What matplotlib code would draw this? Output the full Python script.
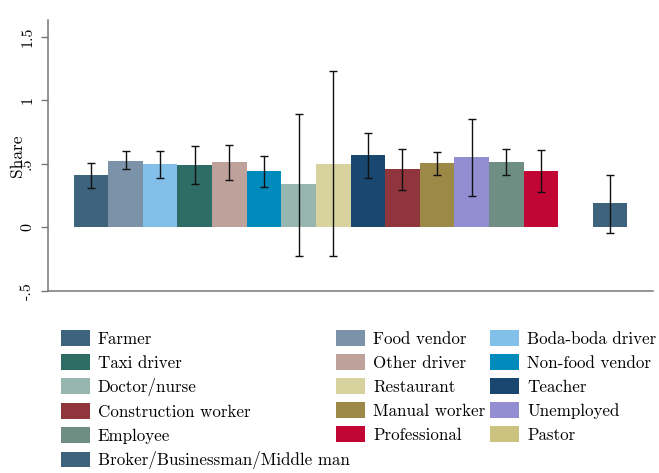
import numpy as np
import matplotlib.pyplot as plt
from matplotlib.patches import Patch

plt.rcParams['font.family'] = ['cmr10', 'DejaVu Serif']
plt.rcParams['axes.formatter.use_mathtext'] = True

# occupation groups, in plotting order
occupations = [
    "Farmer", "Food vendor", "Boda-boda driver", "Taxi driver", "Other driver",
    "Non-food vendor", "Doctor/nurse", "Restaurant", "Teacher",
    "Construction worker", "Manual worker", "Unemployed", "Employee",
    "Professional", "Pastor", "Broker/Businessman/Middle man",
]
share = [0.41, 0.525, 0.496, 0.488, 0.512, 0.441, 0.339, 0.502, 0.567,
         0.457, 0.504, 0.551, 0.514, 0.441, np.nan, 0.189]
ci_low = [0.307, 0.457, 0.386, 0.344, 0.375, 0.318, -0.223, -0.226, 0.391,
          0.294, 0.415, 0.247, 0.412, 0.278, np.nan, -0.042]
ci_high = [0.51, 0.60, 0.60, 0.64, 0.648, 0.562, 0.895, 1.228, 0.743,
           0.62, 0.596, 0.856, 0.617, 0.609, np.nan, 0.412]

colors = ["#3e647d", "#7b92a8", "#82c0e9", "#2d6d66", "#bfa19c", "#008bbc",
          "#97b6b0", "#d7d29e", "#1a476f", "#90353b", "#9c8847", "#938dd2",
          "#6e8e84", "#c10534", "#cac27e", "#3e647d"]

ytick_vals = [-0.5, 0, 0.5, 1, 1.5]
ytick_text = ["-.5", "0", ".5", "1", "1.5"]

share = np.array(share)
lo = np.array(ci_low)
hi = np.array(ci_high)
x = np.arange(len(occupations))

fig = plt.figure(figsize=(6.59, 4.73), dpi=100)
ax = fig.add_axes([48 / 659, 1 - 291 / 473, 605 / 659, 271 / 473])

ax.bar(x, share, width=1.0, color=colors, linewidth=0)
ok = ~np.isnan(share)
ax.errorbar(x[ok], share[ok], yerr=[share[ok] - lo[ok], hi[ok] - share[ok]],
            fmt="none", ecolor="#111111", elinewidth=1.0, capsize=3.2,
            capthick=1.0)

ax.set_xlim(-1.24, 16.24)
ax.set_ylim(-0.5, 1.633)
ax.set_xticks([])
ax.set_yticks(ytick_vals)
ax.set_yticklabels(ytick_text, rotation=90, va="center", fontsize=11.5)
ax.tick_params(axis="y", length=5, width=1.0, color="#777777", pad=5)
for side in ["top", "right"]:
    ax.spines[side].set_visible(False)
for side in ["left", "bottom"]:
    ax.spines[side].set_color("#777777")
    ax.spines[side].set_linewidth(1.1)
ax.set_ylabel("Share", fontsize=12.5)
ax.yaxis.set_label_coords(-0.038, 0.5)

# legend laid out row by row in three columns
handles = [Patch(facecolor=c, edgecolor="none") for c in colors]
col_x = [61, 336, 490]
fs = 12.2
px = fs * 100 / 72
for j, cx in enumerate(col_x):
    idx = list(range(j, len(occupations), 3))
    fig.legend([handles[i] for i in idx], [occupations[i] for i in idx],
               loc="upper left", bbox_to_anchor=(cx / 659, 1 - 330 / 473),
               frameon=False, fontsize=fs, borderpad=0, borderaxespad=0,
               handlelength=29 / px, handleheight=18 / px,
               handletextpad=8 / px, labelspacing=7.3 / px)

fig.savefig("out.png", dpi=100)
